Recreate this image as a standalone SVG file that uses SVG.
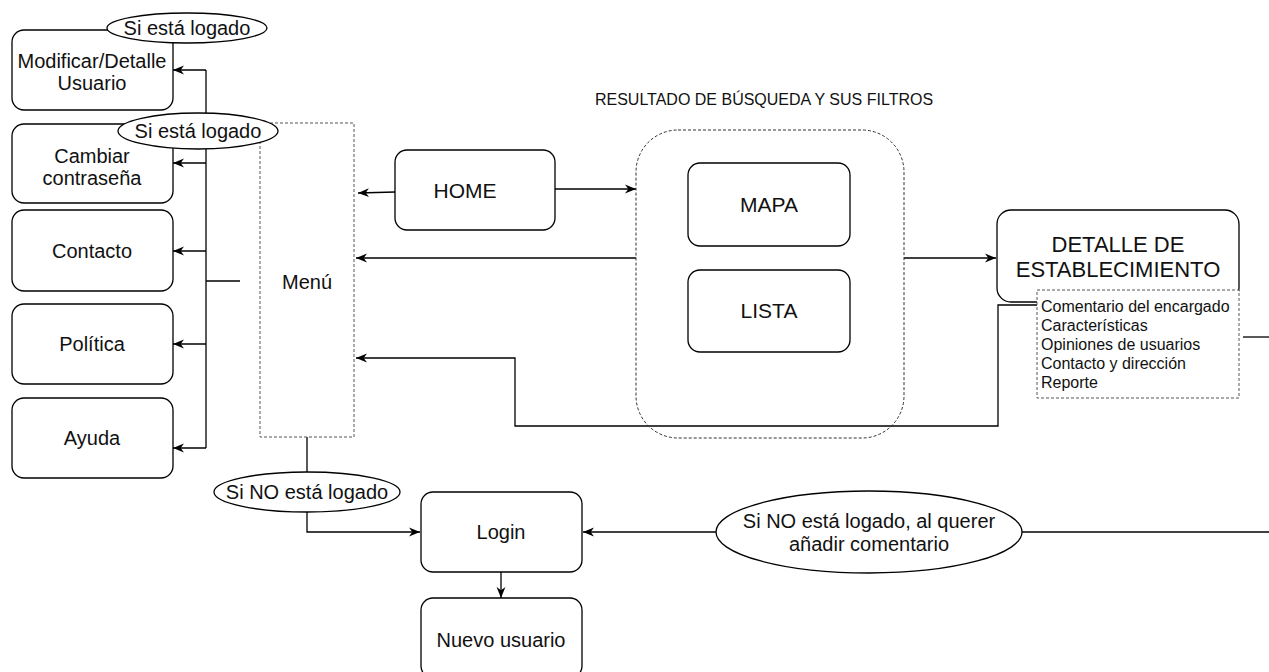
<svg xmlns="http://www.w3.org/2000/svg" width="1269" height="672" viewBox="0 0 1269 672">
<style>
.box{fill:#fff;stroke:#000;stroke-width:1.3}
.dash{fill:none;stroke:#555;stroke-width:1;stroke-dasharray:3 2}
.ell{fill:#fff;stroke:#000;stroke-width:1.3}
.ln{fill:none;stroke:#000;stroke-width:1.3}
text{font-family:"Liberation Sans",Arial,sans-serif;fill:#111}
.t20{font-size:20px;text-anchor:middle}
.t21{font-size:21px;text-anchor:middle}
.t16{font-size:16px}
</style>
<defs>
<marker id="arr" viewBox="0 0 10 10" refX="10" refY="5" markerWidth="11" markerHeight="11" markerUnits="userSpaceOnUse" orient="auto">
<path d="M0,1 L10,5 L0,9 L3,5 z" fill="#000"/>
</marker>
</defs>
<rect width="1269" height="672" fill="#fff"/>

<g id="connectors">
<path class="ln" d="M206,70 V448"/>
<path class="ln" d="M206,70 H173" marker-end="url(#arr)"/>
<path class="ln" d="M206,163 H173" marker-end="url(#arr)"/>
<path class="ln" d="M206,251 H173" marker-end="url(#arr)"/>
<path class="ln" d="M206,344 H173" marker-end="url(#arr)"/>
<path class="ln" d="M206,448 H173" marker-end="url(#arr)"/>
<path class="ln" d="M206,281 H240"/>
<path class="ln" d="M395,192 L358,193" marker-end="url(#arr)"/>
<path class="ln" d="M555,189 H636" marker-end="url(#arr)"/>
<path class="ln" d="M636,258 H356" marker-end="url(#arr)"/>
<path class="ln" d="M904,258 H996" marker-end="url(#arr)"/>
<path class="ln" d="M1037,305 H998 V426 H515 V358 H356" marker-end="url(#arr)"/>
<path class="ln" d="M1243,337 H1269"/>
<path class="ln" d="M307,437 V532 H420" marker-end="url(#arr)"/>
<path class="ln" d="M501,572 V598" marker-end="url(#arr)"/>
<path class="ln" d="M1269,532 H1022"/>
<path class="ln" d="M716,532 H583" marker-end="url(#arr)"/>
</g>

<g id="modificar">
<rect class="box" x="12" y="30" width="161" height="80" rx="12"/>
<text class="t20" x="92" y="68">Modificar/Detalle</text>
<text class="t20" x="92" y="90">Usuario</text>
</g>
<g id="cambiar">
<rect class="box" x="12" y="124" width="161" height="79" rx="12"/>
<text class="t20" x="92" y="163">Cambiar</text>
<text class="t20" x="92" y="185">contraseña</text>
</g>
<g id="contacto">
<rect class="box" x="12" y="210" width="161" height="81" rx="12"/>
<text class="t20" x="92" y="258">Contacto</text>
</g>
<g id="politica">
<rect class="box" x="12" y="304" width="161" height="80" rx="12"/>
<text class="t20" x="92" y="351">Política</text>
</g>
<g id="ayuda">
<rect class="box" x="12" y="398" width="161" height="80" rx="12"/>
<text class="t20" x="92" y="445">Ayuda</text>
</g>

<g id="logado1">
<ellipse class="ell" cx="187" cy="28" rx="80" ry="15"/>
<text class="t20" x="187" y="35">Si está logado</text>
</g>

<g id="menu">
<rect class="dash" x="260" y="123" width="94" height="314"/>
<text class="t20" x="307" y="289">Menú</text>
</g>

<g id="logado2">
<ellipse class="ell" cx="198" cy="131" rx="80" ry="18"/>
<text class="t20" x="198" y="138">Si está logado</text>
</g>

<g id="home">
<rect class="box" x="395" y="150" width="160" height="80" rx="12"/>
<text class="t21" x="465" y="198">HOME</text>
</g>

<g id="resultado">
<text x="764" y="105" style="font-size:16px;text-anchor:middle">RESULTADO DE BÚSQUEDA Y SUS FILTROS</text>
<rect class="dash" x="636" y="130" width="268" height="308" rx="42" style="stroke:#333"/>
</g>
<g id="mapa">
<rect class="box" x="688" y="163" width="162" height="83" rx="12"/>
<text class="t21" x="769" y="212">MAPA</text>
</g>
<g id="lista">
<rect class="box" x="688" y="270" width="162" height="82" rx="12"/>
<text class="t21" x="769" y="318">LISTA</text>
</g>

<g id="detalle">
<rect class="box" x="997" y="210" width="242" height="92" rx="14"/>
<text x="1118" y="252" style="font-size:22px;text-anchor:middle">DETALLE DE</text>
<text x="1118" y="277" style="font-size:22px;text-anchor:middle">ESTABLECIMIENTO</text>
</g>
<g id="detalle-lista">
<rect x="1037" y="290" width="202" height="108" fill="#fff" stroke="#555" stroke-width="1" stroke-dasharray="3 2"/>
<text class="t16" x="1041" y="312">Comentario del encargado</text>
<text class="t16" x="1041" y="331">Características</text>
<text class="t16" x="1041" y="350">Opiniones de usuarios</text>
<text class="t16" x="1041" y="369">Contacto y dirección</text>
<text class="t16" x="1041" y="388">Reporte</text>
</g>

<g id="nologado">
<ellipse class="ell" cx="307" cy="492" rx="93" ry="20"/>
<text class="t20" x="307" y="499">Si NO está logado</text>
</g>

<g id="login">
<rect class="box" x="421" y="492" width="161" height="80" rx="12"/>
<text class="t20" x="501" y="539">Login</text>
</g>
<g id="nuevo">
<rect class="box" x="421" y="598" width="161" height="80" rx="12"/>
<text class="t20" x="501" y="647">Nuevo usuario</text>
</g>

<g id="nologado-comentario">
<ellipse class="ell" cx="869" cy="532" rx="153" ry="41"/>
<text class="t20" x="869" y="528">Si NO está logado, al querer</text>
<text class="t20" x="869" y="551">añadir comentario</text>
</g>
</svg>
